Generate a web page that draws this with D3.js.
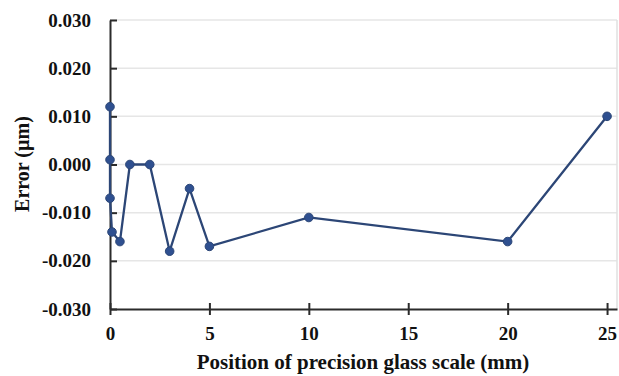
<!DOCTYPE html>
<html lang="en">
<head>
    <meta charset="UTF-8">
    <title>Error vs position</title>
    <script src="https://d3js.org/d3.v7.min.js"></script>
    <style>
        body { margin: 0; background: #fff; }
        text { font-family: "Liberation Serif", "Times New Roman", serif; font-weight: bold; fill: #111; }
    </style>
</head>
<body>
    <svg width="619" height="376"></svg>
    <script>
        // data
        var positions = [0, 0, 0, 0.1, 0.5, 1, 2, 3, 4, 5, 10, 20, 25];
        var errors = [0.012, 0.001, -0.007, -0.014, -0.016, 0.000, 0.000, -0.018, -0.005, -0.017, -0.011, -0.016, 0.010];
        var xTicks = [0, 5, 10, 15, 20, 25];
        var yTicks = [-0.03, -0.02, -0.01, 0, 0.01, 0.02, 0.03];

        var svg = d3.select("svg");
        var plotLeft = 110, plotRight = 617, plotTop = 20, plotBottom = 309;

        var x = d3.scaleLinear().domain([0, 25.5]).range([plotLeft, plotRight]);
        var y = d3.scaleLinear().domain([-0.03, 0.03]).range([plotBottom, plotTop]);

        // grid lines
        svg.append("g").selectAll("line")
            .data(yTicks.filter(d => d > -0.03))
            .enter().append("line")
            .attr("x1", plotLeft).attr("x2", plotRight)
            .attr("y1", d => y(d)).attr("y2", d => y(d))
            .style("stroke", "#e6e6e6")
            .style("stroke-width", 1.5);

        // right border
        svg.append("line")
            .attr("x1", plotRight).attr("x2", plotRight)
            .attr("y1", plotTop).attr("y2", plotBottom)
            .style("stroke", "#e0e0e0")
            .style("stroke-width", 1.5);

        var fmt = d => d3.format(".3f")(d).replace("−", "-");

        // y axis
        var yAxis = svg.append("g")
            .attr("transform", "translate(" + plotLeft + ",0)")
            .call(d3.axisLeft(y).tickValues(yTicks).tickFormat(fmt).tickSizeInner(7).tickSizeOuter(0).tickPadding(12));
        yAxis.selectAll(".tick line").attr("x2", 7);
        yAxis.select(".domain").style("stroke", "#2b2b2b").style("stroke-width", 2);
        yAxis.selectAll(".tick line").style("stroke", "#2b2b2b").style("stroke-width", 2);
        yAxis.selectAll("text").style("font-size", "19px");

        // x axis
        var xAxis = svg.append("g")
            .attr("transform", "translate(0," + plotBottom + ")")
            .call(d3.axisBottom(x).tickValues(xTicks).tickSizeInner(6).tickSizeOuter(0).tickPadding(12));
        xAxis.selectAll(".tick line").attr("y1", -6);
        xAxis.select(".domain").style("stroke", "#2b2b2b").style("stroke-width", 2);
        xAxis.selectAll(".tick line").style("stroke", "#2b2b2b").style("stroke-width", 2);
        xAxis.selectAll("text").style("font-size", "19px");

        // axis titles
        svg.append("text")
            .attr("x", 363).attr("y", 369)
            .attr("text-anchor", "middle")
            .style("font-size", "21px")
            .text("Position of precision glass scale (mm)");

        svg.append("text")
            .attr("transform", "translate(29,164) rotate(-90)")
            .attr("text-anchor", "middle")
            .style("font-size", "20px")
            .text("Error (µm)");

        // series
        var pts = positions.map((p, i) => [p, errors[i]]);
        svg.append("path")
            .datum(pts)
            .attr("d", d3.line().x(d => x(d[0])).y(d => y(d[1])))
            .style("fill", "none")
            .style("stroke", "#2c4676")
            .style("stroke-width", 2.3);

        svg.append("g").selectAll("circle")
            .data(pts)
            .enter().append("circle")
            .attr("cx", d => x(d[0]))
            .attr("cy", d => y(d[1]))
            .attr("r", 4.3)
            .style("fill", "#2f5090")
            .style("stroke", "#2c4676")
            .style("stroke-width", 1);
    </script>
</body>
</html>
